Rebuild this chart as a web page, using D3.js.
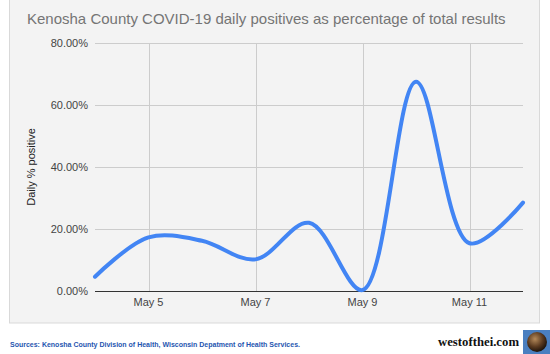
<!DOCTYPE html>
<html>
<head>
<meta charset="utf-8">
<script src="https://cdn.jsdelivr.net/npm/d3@7"></script>
<style>
    body { margin: 0; background: #fff; }
    svg { display: block; font-family: Arial, "Liberation Sans", sans-serif; }
</style>
</head>
<body>
<div id="chart"></div>
<script>
"use strict";

// daily values, May 4 .. May 12 (percent)
const days = ["2020-05-04", "2020-05-05", "2020-05-06", "2020-05-07", "2020-05-08",
    "2020-05-09", "2020-05-10", "2020-05-11", "2020-05-12"];
const positives = [4.6, 17.3, 16.2, 10.2, 22.0, 0.3, 67.5, 15.4, 28.5];
const yTicks = [0, 20, 40, 60, 80];
const xTickDays = ["2020-05-05", "2020-05-07", "2020-05-09", "2020-05-11"];

const title = "Kenosha County COVID-19 daily positives as percentage of total results";
const sources = "Sources: Kenosha County Division of Health, Wisconsin Depatment of Health Services.";

function main() {
    const width = 550, height = 354;
    const margin = {top: 43, right: 27, bottom: 63, left: 95};
    const parseDay = d3.timeParse("%Y-%m-%d");

    const svg = d3.select("#chart").append("svg")
        .attr("width", width).attr("height", height);

    // chart frame
    svg.append("rect")
        .attr("x", 9.5).attr("y", -1)
        .attr("width", 530).attr("height", 324)
        .attr("fill", "#f3f3f3")
        .attr("stroke", "#d9d9d9");

    svg.append("text")
        .attr("x", 27).attr("y", 24)
        .attr("fill", "#757575")
        .attr("font-size", 15)
        .text(title);

    const data = days.map(function (d, i) {
        return {date: parseDay(d), value: positives[i]};
    });

    const x = d3.scaleTime()
        .domain(d3.extent(data, function (d) { return d.date; }))
        .range([margin.left, width - margin.right]);
    const y = d3.scaleLinear()
        .domain([0, 80])
        .range([height - margin.bottom, margin.top]);

    const g = svg.append("g");

    // horizontal grid
    g.selectAll(".hgrid").data(yTicks).enter().append("line")
        .attr("x1", margin.left).attr("x2", width - margin.right)
        .attr("y1", function (d) { return Math.round(y(d)) + 0.5; })
        .attr("y2", function (d) { return Math.round(y(d)) + 0.5; })
        .attr("stroke", function (d) { return d === 0 ? "#333" : "#cccccc"; });

    const xTicks = xTickDays.map(parseDay);
    g.selectAll(".vgrid").data(xTicks).enter().append("line")
        .attr("x1", function (d) { return Math.round(x(d)) + 0.5; })
        .attr("x2", function (d) { return Math.round(x(d)) + 0.5; })
        .attr("y1", margin.top).attr("y2", height - margin.bottom)
        .attr("stroke", "#cccccc");

    // y tick labels
    g.selectAll(".ylab").data(yTicks).enter().append("text")
        .attr("x", margin.left - 7)
        .attr("y", function (d) { return y(d) + 4; })
        .attr("text-anchor", "end")
        .attr("font-size", 11)
        .attr("fill", "#444")
        .text(function (d) { return d.toFixed(2) + "%"; });

    // x tick labels
    const fmt = d3.timeFormat("%b %-d");
    g.selectAll(".xlab").data(xTicks).enter().append("text")
        .attr("x", function (d) { return x(d); })
        .attr("y", height - margin.bottom + 15)
        .attr("text-anchor", "middle")
        .attr("font-size", 11)
        .attr("fill", "#444")
        .text(fmt);

    svg.append("text")
        .attr("transform", "translate(35," + ((margin.top + height - margin.bottom) / 2) + ") rotate(-90)")
        .attr("text-anchor", "middle")
        .attr("font-size", 11)
        .attr("fill", "#222")
        .text("Daily % positive");

    const line = d3.line()
        .curve(d3.curveCatmullRom.alpha(0.5))
        .x(function (d) { return x(d.date); })
        .y(function (d) { return y(d.value); });

    g.append("path")
        .datum(data)
        .attr("fill", "none")
        .attr("stroke", "#4285f4")
        .attr("stroke-width", 4)
        .attr("stroke-linecap", "round")
        .attr("d", line);

    // footer
    svg.append("text")
        .attr("x", 10).attr("y", 347)
        .attr("font-size", 8)
        .attr("font-weight", "bold")
        .attr("fill", "#1f56b0")
        .attr("textLength", 290)
        .attr("lengthAdjust", "spacingAndGlyphs")
        .text(sources);

    svg.append("text")
        .attr("x", 438).attr("y", 346)
        .attr("font-family", "'Liberation Serif', 'DejaVu Serif', serif")
        .attr("font-size", 13)
        .attr("font-weight", "bold")
        .attr("fill", "#111")
        .attr("textLength", 81)
        .attr("lengthAdjust", "spacingAndGlyphs")
        .text("westofthei.com");

    const defs = svg.append("defs");
    const grad = defs.append("radialGradient").attr("id", "globe")
        .attr("cx", "40%").attr("cy", "35%").attr("r", "65%");
    grad.append("stop").attr("offset", "0%").attr("stop-color", "#b58a5a");
    grad.append("stop").attr("offset", "60%").attr("stop-color", "#5a3a20");
    grad.append("stop").attr("offset", "100%").attr("stop-color", "#1e140c");
    svg.append("rect")
        .attr("x", 523).attr("y", 330).attr("width", 27).attr("height", 24)
        .attr("fill", "#4a7fc0");
    svg.append("circle")
        .attr("cx", 537).attr("cy", 342).attr("r", 10)
        .attr("fill", "url(#globe)");
}

main();
</script>
</body>
</html>
